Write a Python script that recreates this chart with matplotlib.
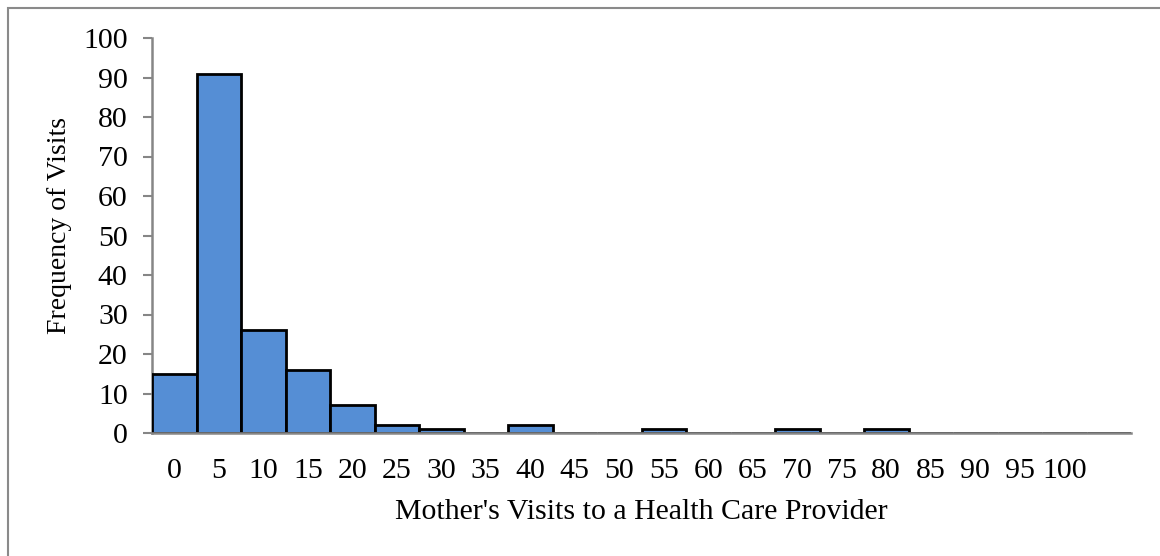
import matplotlib
matplotlib.use("Agg")
import matplotlib.pyplot as plt
from matplotlib.patches import Rectangle

categories = ["0", "5", "10", "15", "20", "25", "30", "35", "40", "45", "50",
              "55", "60", "65", "70", "75", "80", "85", "90", "95", "100", ""]
frequencies = [15, 91, 26, 16, 7, 2, 1, 0, 2, 0, 0, 1, 0, 0, 1, 0, 1, 0, 0, 0, 0, 0]
y_ticks = [0, 10, 20, 30, 40, 50, 60, 70, 80, 90, 100]

plt.rcParams['font.family'] = ['Liberation Serif', 'DejaVu Serif']
FS = 21.5

fig = plt.figure(figsize=(11.6, 5.56), dpi=100)
ax = fig.add_axes([152/1160, 1-433/556, (1131-152)/1160, (433-38)/556])

x = list(range(len(categories)))
ax.bar(x, frequencies, width=1.0, color="#558ED5", edgecolor="black", linewidth=2.0, zorder=3)

ax.set_xlim(-0.5, len(categories) - 0.5)
ax.set_ylim(0, 100)
ax.set_yticks(y_ticks)
ax.set_yticklabels([str(v) for v in y_ticks], fontsize=FS)
ax.set_xticks(x)
ax.set_xticklabels(categories, fontsize=FS)
ax.tick_params(axis='x', length=0, pad=18)
ax.tick_params(axis='y', length=6.5, width=1.5, color="#868686", pad=11, direction='out')

for s in ['top', 'right']:
    ax.spines[s].set_visible(False)
for s in ['left', 'bottom']:
    ax.spines[s].set_color("#868686")
    ax.spines[s].set_linewidth(1.8)
ax.spines['bottom'].set_zorder(4)

ax.set_xlabel("Mother's Visits to a Health Care Provider", fontsize=FS, labelpad=11)
fig.text(59/1160, 1 - 226/556, "Frequency of Visits", fontsize=20, rotation=90,
         ha='center', va='center')

fig.patches.append(Rectangle((8/1160, -0.1), 1.2, 1 - 8/556 + 0.1, transform=fig.transFigure,
                             fill=False, edgecolor="#8a8a8a", linewidth=1.5))

fig.savefig("out.png", dpi=100)
